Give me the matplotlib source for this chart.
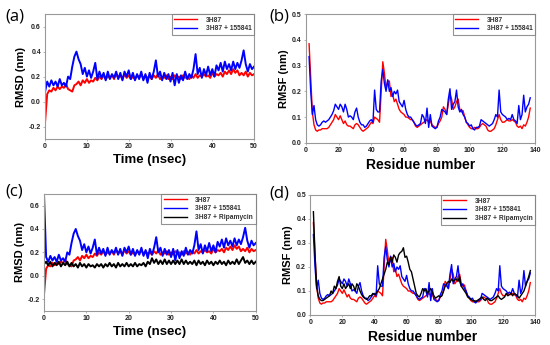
import numpy as np
import matplotlib
matplotlib.use("Agg")
import matplotlib.pyplot as plt

plt.rcParams["font.family"] = ["Liberation Sans", "DejaVu Sans"]

# -------------------------------
# RMSD data (values every 0.5 ns, 0-50 ns)
# -------------------------------
rmsd_apo = [
    -0.16, 0.06, 0.09, 0.08, 0.11, 0.09, 0.12, 0.10, 0.12, 0.11,
    0.14, 0.10, 0.09, 0.08, 0.13, 0.14, 0.16, 0.13, 0.17, 0.15,
    0.18, 0.15, 0.17, 0.16, 0.19, 0.17, 0.20, 0.18, 0.21, 0.18,
    0.20, 0.19, 0.21, 0.18, 0.22, 0.19, 0.21, 0.18, 0.22, 0.19,
    0.21, 0.18, 0.20, 0.18, 0.21, 0.19, 0.22, 0.18, 0.21, 0.19,
    0.20, 0.18, 0.21, 0.19, 0.22, 0.18, 0.20, 0.19, 0.21, 0.18,
    0.20, 0.18, 0.21, 0.19, 0.20, 0.18, 0.21, 0.19, 0.20, 0.18,
    0.21, 0.19, 0.22, 0.19, 0.21, 0.20, 0.22, 0.20, 0.21, 0.19,
    0.23, 0.20, 0.22, 0.21, 0.23, 0.20, 0.24, 0.22, 0.25, 0.22,
    0.26, 0.23, 0.25, 0.21, 0.23, 0.21, 0.24, 0.20, 0.23, 0.21,
    0.22,
]
rmsd_155841 = [
    0.08, 0.16, 0.12, 0.17, 0.13, 0.16, 0.12, 0.18, 0.13, 0.15,
    0.12, 0.20, 0.18, 0.28, 0.36, 0.40, 0.34, 0.30, 0.22, 0.27,
    0.20, 0.25, 0.19, 0.24, 0.31, 0.18, 0.24, 0.19, 0.23, 0.17,
    0.24, 0.18, 0.22, 0.19, 0.24, 0.18, 0.23, 0.17, 0.24, 0.20,
    0.25, 0.18, 0.23, 0.17, 0.22, 0.18, 0.24, 0.17, 0.22, 0.15,
    0.23, 0.18, 0.24, 0.33, 0.20, 0.24, 0.17, 0.23, 0.18, 0.22,
    0.16, 0.23, 0.13, 0.22, 0.15, 0.21, 0.17, 0.24, 0.18, 0.22,
    0.19, 0.26, 0.38, 0.22, 0.27, 0.19, 0.26, 0.21, 0.28, 0.21,
    0.26, 0.20, 0.29, 0.25, 0.31, 0.24, 0.32, 0.26, 0.30, 0.25,
    0.32, 0.26, 0.31, 0.27, 0.33, 0.41, 0.30, 0.24, 0.30, 0.26,
    0.28,
]
rmsd_155841_c_start = 0.70
rmsd_ripamycin = [
    0.10, 0.12, 0.09, 0.12, 0.08, 0.11, 0.09, 0.12, 0.08, 0.11,
    0.09, 0.12, 0.08, 0.11, 0.08, 0.10, 0.07, 0.11, 0.08, 0.10,
    0.07, 0.10, 0.08, 0.09, 0.07, 0.10, 0.08, 0.10, 0.07, 0.10,
    0.08, 0.11, 0.08, 0.10, 0.07, 0.11, 0.08, 0.10, 0.08, 0.11,
    0.08, 0.10, 0.08, 0.11, 0.08, 0.10, 0.09, 0.11, 0.08, 0.12,
    0.10, 0.15, 0.11, 0.14, 0.10, 0.13, 0.10, 0.14, 0.10, 0.13,
    0.10, 0.13, 0.10, 0.13, 0.10, 0.14, 0.10, 0.13, 0.10, 0.12,
    0.10, 0.13, 0.09, 0.13, 0.10, 0.12, 0.09, 0.13, 0.10, 0.12,
    0.09, 0.12, 0.10, 0.13, 0.10, 0.12, 0.09, 0.13, 0.10, 0.12,
    0.10, 0.14, 0.10, 0.13, 0.16, 0.11, 0.13, 0.10, 0.13, 0.10,
    0.12,
]

# -------------------------------
# RMSF data (residues 2-137)
# -------------------------------
rmsf_apo = [
    0.385, 0.25, 0.12, 0.07, 0.05, 0.045, 0.05, 0.05, 0.055, 0.055,
    0.055, 0.055, 0.06, 0.07, 0.08, 0.09, 0.11, 0.10, 0.09, 0.105,
    0.09, 0.075, 0.085, 0.07, 0.065, 0.065, 0.06, 0.055, 0.07, 0.075,
    0.07, 0.06, 0.05, 0.045, 0.05, 0.055, 0.06, 0.07, 0.08, 0.075,
    0.10, 0.095, 0.09, 0.08, 0.20, 0.315, 0.27, 0.21, 0.24, 0.24,
    0.18, 0.19, 0.16, 0.17, 0.15, 0.13, 0.12, 0.115, 0.11, 0.10,
    0.10, 0.095, 0.09, 0.09, 0.08, 0.065, 0.06, 0.065, 0.07, 0.075,
    0.08, 0.085, 0.09, 0.08, 0.085, 0.07, 0.065, 0.06, 0.06, 0.075,
    0.085, 0.10, 0.14, 0.13, 0.11, 0.15, 0.19, 0.17, 0.13, 0.14,
    0.16, 0.17, 0.13, 0.12, 0.125, 0.10, 0.08, 0.07, 0.06, 0.055,
    0.055, 0.06, 0.055, 0.055, 0.06, 0.07, 0.075, 0.07, 0.065, 0.05,
    0.045, 0.045, 0.05, 0.055, 0.07, 0.09, 0.11, 0.09, 0.08, 0.08,
    0.085, 0.09, 0.085, 0.085, 0.09, 0.085, 0.08, 0.065, 0.06, 0.065,
    0.055, 0.07, 0.065, 0.08, 0.10, 0.135,
]
rmsf_155841 = [
    0.335, 0.20, 0.11, 0.145, 0.09, 0.07, 0.065, 0.07, 0.08, 0.085,
    0.08, 0.085, 0.09, 0.10, 0.11, 0.125, 0.15, 0.14, 0.13, 0.15,
    0.14, 0.12, 0.15, 0.13, 0.10, 0.105, 0.10, 0.09, 0.12, 0.135,
    0.10, 0.08, 0.07, 0.07, 0.06, 0.065, 0.075, 0.085, 0.09, 0.08,
    0.205, 0.13, 0.12, 0.12, 0.24, 0.285, 0.23, 0.20, 0.245, 0.20,
    0.215, 0.18, 0.20, 0.19, 0.205, 0.16, 0.15, 0.14, 0.165, 0.13,
    0.11, 0.10, 0.10, 0.09, 0.08, 0.07, 0.065, 0.07, 0.075, 0.11,
    0.10, 0.075, 0.135, 0.06, 0.11, 0.065, 0.06, 0.055, 0.06, 0.085,
    0.10, 0.13, 0.125, 0.12, 0.11, 0.17, 0.21, 0.13, 0.15, 0.16,
    0.205, 0.14, 0.12, 0.13, 0.11, 0.10, 0.08, 0.075, 0.065, 0.07,
    0.055, 0.05, 0.06, 0.06, 0.065, 0.09, 0.085, 0.08, 0.075, 0.07,
    0.065, 0.07, 0.075, 0.09, 0.11, 0.10, 0.205, 0.12, 0.11, 0.105,
    0.10, 0.09, 0.095, 0.09, 0.11, 0.09, 0.085, 0.075, 0.145, 0.09,
    0.11, 0.185, 0.12, 0.14, 0.15, 0.175,
]
rmsf_ripamycin = [
    0.43, 0.25, 0.12, 0.08, 0.065, 0.06, 0.06, 0.065, 0.07, 0.075,
    0.08, 0.10, 0.09, 0.12, 0.11, 0.14, 0.16, 0.12, 0.11, 0.13,
    0.11, 0.12, 0.13, 0.11, 0.13, 0.12, 0.10, 0.13, 0.12, 0.10,
    0.085, 0.075, 0.07, 0.065, 0.07, 0.08, 0.08, 0.09, 0.085, 0.09,
    0.10, 0.11, 0.13, 0.15, 0.17, 0.19, 0.22, 0.21, 0.24, 0.22,
    0.25, 0.24, 0.22, 0.25, 0.26, 0.265, 0.28, 0.24, 0.245, 0.22,
    0.19, 0.18, 0.15, 0.12, 0.09, 0.08, 0.075, 0.09, 0.11, 0.10,
    0.11, 0.09, 0.10, 0.11, 0.095, 0.08, 0.07, 0.075, 0.08, 0.075,
    0.08, 0.10, 0.12, 0.13, 0.14, 0.135, 0.15, 0.14, 0.145, 0.15,
    0.14, 0.16, 0.12, 0.11, 0.10, 0.09, 0.075, 0.07, 0.065, 0.06,
    0.06, 0.055, 0.06, 0.065, 0.07, 0.075, 0.065, 0.06, 0.07, 0.065,
    0.06, 0.06, 0.065, 0.07, 0.075, 0.08, 0.07, 0.065, 0.07, 0.075,
    0.09, 0.08, 0.085, 0.09, 0.08, 0.09, 0.085, 0.08, 0.07, 0.08,
    0.09, 0.10, 0.12, 0.14, 0.16, 0.185,
]
first_residue = 2

labels = ["3H87", "3H87 + 155841", "3H87 + Ripamycin"]
colors = ["#ff0000", "#0000ff", "#000000"]

time = np.linspace(0, 50, len(rmsd_apo))
residues = np.arange(first_residue, first_residue + len(rmsf_apo))

fig = plt.figure(figsize=(5.5, 3.45), dpi=100)

ax_a = fig.add_axes([0.082, 0.597, 0.380, 0.362])
ax_b = fig.add_axes([0.556, 0.586, 0.417, 0.373])
ax_c = fig.add_axes([0.080, 0.099, 0.385, 0.339])
ax_d = fig.add_axes([0.564, 0.087, 0.409, 0.348])


def style_axes(ax):
    for s in ax.spines.values():
        s.set_color("#999999")
        s.set_linewidth(0.8)
    ax.tick_params(length=1.5, width=0.5, color="#999999", pad=1.5)
    for lab in ax.get_xticklabels() + ax.get_yticklabels():
        lab.set_fontsize(5)
        lab.set_fontweight("bold")
        lab.set_color("#222222")


def add_legend(ax):
    leg = ax.legend(loc="upper right", frameon=True, fancybox=False,
                    borderaxespad=0.0, handlelength=3.4, handletextpad=1.3,
                    borderpad=0.4, labelspacing=0.25,
                    prop=dict(size=4.8, weight="bold"))
    leg.get_frame().set_edgecolor("#777777")
    leg.get_frame().set_linewidth(0.8)
    for h in leg.get_lines():
        h.set_linewidth(1.0)
    for txt in leg.get_texts():
        txt.set_color("#333333")


rmsd_ticks = [-0.2, 0.0, 0.2, 0.4, 0.6]
rmsd_tick_labels = ["-0.2", "0.0", "0.2", "0.4", "0.6"]
rmsf_ticks = [0.0, 0.1, 0.2, 0.3, 0.4, 0.5]
rmsf_tick_labels = ["0.0", "0.1", "0.2", "0.3", "0.4", "0.5"]

# --- (a) RMSD ---
ax_a.plot(time, rmsd_apo, color=colors[0], lw=1.4, label=labels[0])
ax_a.plot(time, rmsd_155841, color=colors[1], lw=1.4, label=labels[1])
ax_a.set_xlim(0, 50)
ax_a.set_ylim(-0.3, 0.7)
ax_a.set_yticks(rmsd_ticks)
ax_a.set_yticklabels(rmsd_tick_labels)
ax_a.set_xticks([0, 10, 20, 30, 40, 50])
ax_a.set_xlabel("Time (nsec)", fontsize=9.5, fontweight="bold", labelpad=3)
ax_a.set_ylabel("RMSD (nm)", fontsize=8, fontweight="bold", labelpad=2)
style_axes(ax_a)
add_legend(ax_a)

# --- (b) RMSF ---
ax_b.plot(residues, rmsf_apo, color=colors[0], lw=1.0, label=labels[0])
ax_b.plot(residues, rmsf_155841, color=colors[1], lw=1.0, label=labels[1])
ax_b.set_xlim(0, 140)
ax_b.set_ylim(0, 0.5)
ax_b.set_xticks(np.arange(0, 141, 20))
ax_b.set_yticks(rmsf_ticks)
ax_b.set_yticklabels(rmsf_tick_labels)
ax_b.set_xlabel("Residue number", fontsize=10, fontweight="bold", labelpad=3)
ax_b.set_ylabel("RMSF (nm)", fontsize=8, fontweight="bold", labelpad=2)
style_axes(ax_b)
add_legend(ax_b)

# --- (c) RMSD with Ripamycin ---
rmsd_155841_c = [rmsd_155841_c_start] + rmsd_155841[1:]
ax_c.plot(time, rmsd_apo, color=colors[0], lw=1.4, label=labels[0])
ax_c.plot(time, rmsd_155841_c, color=colors[1], lw=1.4, label=labels[1])
ax_c.plot(time, rmsd_ripamycin, color=colors[2], lw=1.4, label=labels[2])
ax_c.set_xlim(0, 50)
ax_c.set_ylim(-0.3, 0.7)
ax_c.set_yticks(rmsd_ticks)
ax_c.set_yticklabels(rmsd_tick_labels)
ax_c.set_xticks([0, 10, 20, 30, 40, 50])
ax_c.set_xlabel("Time (nsec)", fontsize=9.5, fontweight="bold", labelpad=3)
ax_c.set_ylabel("RMSD (nm)", fontsize=8, fontweight="bold", labelpad=2)
style_axes(ax_c)
add_legend(ax_c)

# --- (d) RMSF with Ripamycin ---
ax_d.plot(residues, rmsf_apo, color=colors[0], lw=1.0, label=labels[0])
ax_d.plot(residues, rmsf_155841, color=colors[1], lw=1.0, label=labels[1])
ax_d.plot(residues, rmsf_ripamycin, color=colors[2], lw=1.0, label=labels[2])
ax_d.set_xlim(0, 140)
ax_d.set_ylim(0, 0.5)
ax_d.set_xticks(np.arange(0, 141, 20))
ax_d.set_yticks(rmsf_ticks)
ax_d.set_yticklabels(rmsf_tick_labels)
ax_d.set_xlabel("Residue number", fontsize=10, fontweight="bold", labelpad=3)
ax_d.set_ylabel("RMSF (nm)", fontsize=8, fontweight="bold", labelpad=2)
style_axes(ax_d)
add_legend(ax_d)

# panel letters
for x, y, t in [(0.010, 0.952, "(a)"), (0.490, 0.952, "(b)"),
                (0.010, 0.445, "(c)"), (0.490, 0.440, "(d)")]:
    fig.text(x, y, t, fontsize=12, ha="left", va="center", family="Open Sans")

fig.savefig("out.png", dpi=100)
